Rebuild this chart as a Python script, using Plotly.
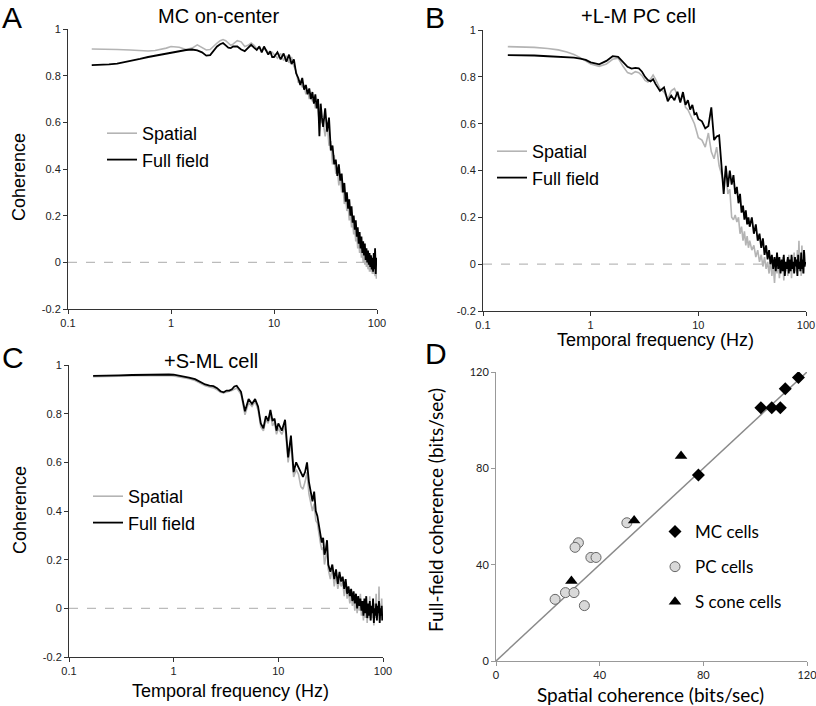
import plotly.graph_objects as go

# ---------------- data ----------------
freq = [0.17, 0.2, 0.25, 0.3, 0.4, 0.5, 0.6, 0.7, 0.8, 0.9,
        1.0, 1.2, 1.4, 1.6, 1.8, 2.0, 2.2, 2.4, 2.6, 2.8, 3.0, 3.2, 3.4, 3.6, 3.8,
        4.0, 4.4, 4.8, 5.2, 5.6, 6.0, 6.4, 6.8, 7.2, 7.6, 8.0, 8.4, 8.8, 9.2, 9.6,
        10, 10.8, 11.6, 12.4, 13.2, 14.0, 14.8, 15.6, 16.4, 17.2, 18.0, 18.8, 19.6, 20.4, 21.2,
        22.0, 22.8, 23.6, 24.4, 25.2, 26.0, 26.8, 27.6, 28.4, 29.2,
        30, 31.4, 32.8, 34.2, 35.6, 37, 38.4, 39.8, 41.2, 42.6, 44, 45.4, 46.8, 48.2, 49.6,
        51, 52.4, 53.8, 55.2, 56.6, 58, 59.4, 60.8, 62.2, 63.6, 65, 66.4, 67.8, 69.2, 70.6,
        72, 73.4, 74.8, 76.2, 77.6, 79, 80.4, 81.8, 83.2, 84.6, 86, 87.4, 88.8, 90.2, 91.6,
        93, 94.4, 95.8, 97.2, 98.6]

mc_full = [.845, .846, .848, .852, .862, .872, .880, .886, .890, .895,
           .900, .905, .910, .912, .908, .900, .886, .888, .910, .925, .935, .940, .930, .920, .918,
           .925, .925, .912, .905, .920, .932, .920, .910, .925, .900, .925, .905, .890, .905, .880,
           .880, .900, .870, .895, .860, .890, .850, .870, .810, .790, .760, .790, .740, .760, .720,
           .745, .700, .730, .680, .720, .660, .700, .540, .680, .620,
           .580, .660, .560, .620, .480, .500, .420, .440, .370, .420,
           .350, .380, .300, .340, .260, .300, .230, .270, .200, .240,
           .170, .200, .140, .180, .110, .150, .080, .130, .060, .110,
           .040, .090, .030, .080, .010, .060, .000, .050, -.010, .040,
           -.020, .030, -.030, .020, -.040, .040, -.030, .060, -.050, .020]
mc_spatial = [.914, .914, .913, .912, .910, .907, .906, .908, .912, .918,
              .925, .922, .912, .918, .932, .922, .910, .912, .928, .940, .950, .955, .950, .938, .930,
              .935, .950, .945, .925, .930, .940, .930, .915, .925, .905, .915, .910, .900, .895, .900,
              .890, .875, .895, .865, .885, .855, .880, .840, .820, .770, .780, .750, .760, .720, .740,
              .700, .720, .690, .700, .660, .690, .640, .600, .640, .600,
              .600, .540, .600, .500, .520, .420, .460, .380, .400, .330,
              .370, .300, .320, .250, .280, .220, .250, .180, .220, .150,
              .180, .120, .150, .090, .120, .060, .100, .040, .080, .020,
              .060, .000, .050, -.010, .040, -.020, .030, -.030, .020, -.040,
              .030, -.040, .020, -.050, .010, -.050, .020, -.060, .000, -.070]

lm_full = [.893, .893, .892, .891, .888, .886, .884, .882, .878, .872,
           .862, .853, .868, .888, .885, .862, .843, .835, .838, .836, .822, .800, .786, .780, .790,
           .770, .740, .755, .696, .720, .700, .736, .690, .735, .680, .700, .660, .680, .640, .645,
           .620, .610, .580, .590, .670, .530, .545, .550, .420, .300, .420, .330, .400, .340, .380,
           .300, .330, .260, .300, .220, .250, .190, .230, .170, .200,
           .160, .200, .130, .170, .100, .130, .070, .110, .040, .080,
           .020, .060, .000, .040, -.020, .030, -.030, .050, -.020, .030,
           -.040, .020, -.030, .040, -.050, .010, -.020, .030, -.040, .020,
           -.030, .040, -.020, .010, -.040, .030, -.010, .020, -.050, .040,
           -.020, .010, -.030, .050, -.020, .020, -.040, .060, -.010, .010]
lm_spatial = [.929, .929, .928, .926, .921, .915, .906, .895, .882, .868,
              .855, .845, .855, .875, .880, .845, .818, .812, .822, .818, .805, .785, .778, .790, .808,
              .790, .750, .735, .705, .740, .750, .720, .700, .720, .670, .660, .640, .620, .600, .570,
              .540, .530, .500, .560, .480, .450, .500, .420, .380, .350, .400, .300, .320, .200, .190,
              .210, .180, .200, .130, .160, .100, .140, .080, .120, .070,
              .100, .060, .080, .030, .060, .010, .040, -.010, .030, -.020,
              .010, -.040, .020, -.050, .000, -.080, .010, -.040, .020, -.060,
              .000, -.030, .030, -.070, .010, -.030, .020, -.050, .040, -.020,
              .010, -.060, .030, -.010, .050, -.030, .020, -.040, .060, -.020,
              .100, -.030, .020, -.050, .080, -.010, .030, -.040, .050, .000]

sml_full = [.955, .955, .956, .957, .959, .960, .961, .962, .962, .961,
            .960, .955, .948, .942, .930, .920, .915, .913, .905, .892, .888, .895, .895, .900, .912,
            .915, .890, .810, .860, .840, .860, .830, .760, .740, .790, .770, .815, .770, .780, .730,
            .760, .730, .775, .620, .710, .560, .600, .580, .560, .540, .560, .600, .520, .480, .440,
            .480, .400, .380, .340, .310, .270, .290, .220, .240, .280,
            .180, .150, .180, .120, .160, .100, .150, .110, .130, .080,
            .120, .060, .090, .050, .080, .030, .070, .020, .060, .000,
            .050, .010, .040, -.010, .030, -.030, .040, -.020, .050, -.040,
            .020, -.030, .030, -.050, .010, -.020, .040, -.060, .000, -.030,
            .020, -.050, .010, -.020, .030, -.060, .000, -.030, .010, -.050]
sml_spatial = [.952, .952, .953, .954, .956, .957, .958, .958, .958, .957,
               .955, .950, .944, .936, .925, .915, .910, .906, .898, .888, .885, .888, .890, .895, .900,
               .905, .880, .795, .845, .830, .850, .815, .745, .730, .775, .760, .800, .750, .765, .715,
               .740, .715, .750, .600, .680, .540, .570, .550, .500, .490, .520, .560, .470, .440, .400,
               .430, .360, .350, .300, .270, .240, .250, .180, .220, .240,
               .160, .120, .170, .090, .140, .080, .120, .090, .110, .050,
               .100, .040, .070, .020, .060, .010, .050, -.010, .050, -.020,
               .030, -.010, .060, -.030, .010, -.050, .030, -.040, .030, -.060,
               .010, -.040, .050, -.050, .000, -.040, .030, -.070, .020, -.040,
               .060, -.050, .000, -.030, .090, -.040, .020, -.050, .040, -.030]

mc_x = [102.2, 106.4, 109.7, 111.6, 116.7, 78.1]
mc_y = [105.2, 105.2, 105.2, 113.0, 117.7, 77.2]
pc_x = [50.5, 31.8, 30.5, 36.6, 38.6, 22.8, 26.8, 30.1, 34.1]
pc_y = [57.4, 49.1, 47.2, 43.0, 43.0, 25.6, 28.4, 28.4, 23.0]
s_x = [71.4, 53.3, 29.1]
s_y = [85.1, 58.3, 33.2]
unity = [0, 120]

freq_ticks = [0.1, 1, 10, 100]
freq_ticktext = ["0.1", "1", "10", "100"]
coh_ticks = [-0.2, 0, 0.2, 0.4, 0.6, 0.8, 1]
coh_ticktext = ["-0.2", "0", "0.2", "0.4", "0.6", "0.8", "1"]
bits_ticks = [0, 40, 80, 120]

# ---------------- figure ----------------
W, H = 816, 706
ARIAL = "Liberation Sans, Arial, sans-serif"
CAL = "Lato, Open Sans, sans-serif"
GRAY = "#b4b4b4"

fig = go.Figure()

panels = [("x", "y", "legend", mc_spatial, mc_full),
          ("x2", "y2", "legend2", lm_spatial, lm_full),
          ("x3", "y3", "legend3", sml_spatial, sml_full)]
for xa, ya, lg, sp, ff in panels:
    fig.add_trace(go.Scatter(x=freq, y=sp, mode="lines", name="Spatial",
                             line=dict(color=GRAY, width=1.6), xaxis=xa, yaxis=ya, legend=lg))
    fig.add_trace(go.Scatter(x=freq, y=ff, mode="lines", name="Full field",
                             line=dict(color="black", width=1.8), xaxis=xa, yaxis=ya, legend=lg))

fig.add_trace(go.Scatter(x=unity, y=unity, mode="lines", line=dict(color="#8a8a8a", width=1.5),
                         xaxis="x4", yaxis="y4", showlegend=False, hoverinfo="skip"))
fig.add_trace(go.Scatter(x=mc_x, y=mc_y, mode="markers", name="MC cells", legendgroup="mc",
                         marker=dict(symbol="diamond", size=10, color="black"),
                         xaxis="x4", yaxis="y4", legend="legend4"))
fig.add_trace(go.Scatter(x=pc_x, y=pc_y, mode="markers", name="PC cells", legendgroup="pc",
                         marker=dict(symbol="circle", size=10, color="#d9d9d9",
                                     line=dict(color="#666666", width=1)),
                         xaxis="x4", yaxis="y4", legend="legend4"))
fig.add_trace(go.Scatter(x=s_x, y=s_y, mode="markers", name="S cone cells", legendgroup="s",
                         marker=dict(symbol="triangle-up", size=11, color="black"),
                         xaxis="x4", yaxis="y4", legend="legend4"))


def px_x(p):
    return p / W


def px_y(p):
    return 1 - p / H


logx = dict(type="log", range=[-1, 2], tickvals=freq_ticks, ticktext=freq_ticktext,
            showline=True, linecolor="#333", linewidth=1, ticks="outside", ticklen=4,
            tickcolor="#333", showgrid=False, zeroline=False, automargin=False,
            ticklabeloverflow="allow",
            tickfont=dict(family=ARIAL, size=11, color="#222"))
cohy = dict(range=[-0.2, 1], tickvals=coh_ticks, ticktext=coh_ticktext,
            showline=True, linecolor="#333", linewidth=1, ticks="outside", ticklen=4,
            tickcolor="#333", showgrid=False, zeroline=False, automargin=False,
            ticklabeloverflow="allow",
            tickfont=dict(family=ARIAL, size=11, color="#222"))
bits = dict(range=[0, 120], tickvals=bits_ticks, showline=True, linecolor="#999", linewidth=1,
            ticks="outside", ticklen=4, tickcolor="#999", showgrid=False, zeroline=False,
            automargin=False, ticklabeloverflow="allow",
            tickfont=dict(family=CAL, size=11, color="#222"))

fig.update_layout(
    width=W, height=H, margin=dict(l=0, r=0, t=0, b=0),
    paper_bgcolor="white", plot_bgcolor="white",
    xaxis=dict(logx, domain=[px_x(68), px_x(377)], anchor="y"),
    yaxis=dict(cohy, domain=[px_y(309), px_y(29)], anchor="x"),
    xaxis2=dict(logx, domain=[px_x(483), px_x(806)], anchor="y2"),
    yaxis2=dict(cohy, domain=[px_y(311), px_y(30)], anchor="x2"),
    xaxis3=dict(logx, domain=[px_x(69), px_x(383)], anchor="y3"),
    yaxis3=dict(cohy, domain=[px_y(657), px_y(365)], anchor="x3"),
    xaxis4=dict(bits, domain=[px_x(496), px_x(807)], anchor="y4"),
    yaxis4=dict(bits, domain=[px_y(661), px_y(372)], anchor="x4"),
    showlegend=True,
)

leg_common = dict(bgcolor="rgba(0,0,0,0)", font=dict(family=ARIAL, size=18, color="black"),
                  xanchor="left", yanchor="top", itemwidth=30, tracegroupgap=0)
fig.update_layout(
    legend=dict(leg_common, x=px_x(102), y=px_y(115)),
    legend2=dict(leg_common, x=px_x(492), y=px_y(133)),
    legend3=dict(leg_common, x=px_x(88), y=px_y(478)),
    legend4=dict(bgcolor="rgba(0,0,0,0)", font=dict(family=CAL, size=17, color="black"),
                 xanchor="left", yanchor="top", x=px_x(655), y=px_y(514),
                 itemwidth=30, tracegroupgap=10, traceorder="grouped"),
)

# zero reference lines
for xa, ya in [("x", "y"), ("x2", "y2"), ("x3", "y3")]:
    fig.add_shape(type="line", xref=f"{xa} domain", yref=ya, x0=0, x1=1, y0=0, y1=0,
                  line=dict(color="#bbbbbb", width=1.2, dash="dash"), layer="below")

ann = []


def text(x, y, s, size, family=ARIAL, angle=0, xanchor="center"):
    ann.append(dict(x=px_x(x), y=px_y(y), xref="paper", yref="paper", text=s, showarrow=False,
                    font=dict(family=family, size=size, color="black"), textangle=angle,
                    xanchor=xanchor, yanchor="middle"))


text(0, 17, "A", 30, xanchor="left")
text(423, 17, "B", 30, xanchor="left")
text(0, 357, "C", 30, xanchor="left")
text(423, 353, "D", 30, xanchor="left")
text(218, 16, "MC on-center", 20)
text(638, 16, "+L-M PC cell", 20)
text(211, 361, "+S-ML cell", 20)
text(19, 177, "Coherence", 18, angle=-90)
text(20, 510, "Coherence", 18, angle=-90)
text(655, 340, "Temporal frequency (Hz)", 18)
text(230, 691, "Temporal frequency (Hz)", 18)
text(650, 694, "Spatial coherence (bits/sec)", 19, family=CAL)
text(435, 510, "Full-field coherence (bits/sec)", 19, family=CAL, angle=-90)
fig.update_layout(annotations=ann)

fig.write_html("out.html", config={"displayModeBar": False},
               post_script="document.body.style.margin='0px';document.body.style.overflow='hidden';")
